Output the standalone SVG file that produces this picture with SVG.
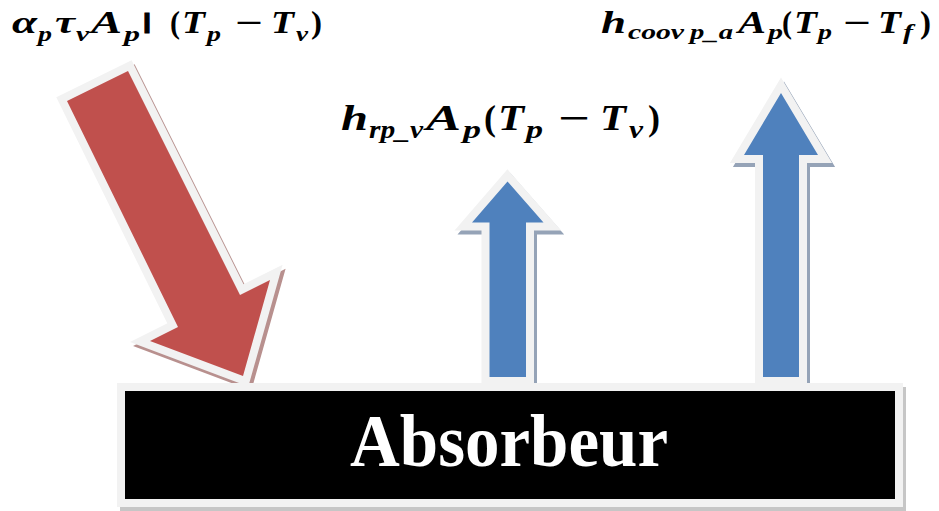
<svg xmlns="http://www.w3.org/2000/svg" width="939" height="511" viewBox="0 0 939 511">
<style>
.rim{fill:#f2f2f2;stroke:#f2f2f2;stroke-width:16;stroke-linejoin:miter;stroke-miterlimit:10}
.rsh{fill:#b8908e;stroke:#b8908e;stroke-width:16;stroke-linejoin:miter;stroke-miterlimit:10}
.bsh{fill:#95a3b7;stroke:#95a3b7;stroke-width:16;stroke-linejoin:miter;stroke-miterlimit:10}
.red{fill:#c0504d}
.blue{fill:#4f81bd}
.m{font-family:"Liberation Serif",serif;font-weight:bold;font-style:italic;font-size:31px;fill:#000}
.big{font-size:36px}
.s{font-size:22px}
.sb{font-size:25px}
.u{font-style:normal}
.sans{font-family:"Liberation Sans",sans-serif;font-style:normal;font-size:29px;stroke:#000;stroke-width:1}
.lbl{font-family:"Liberation Serif",serif;font-weight:bold;font-size:74px;fill:#fff}
</style>
<defs>
<polygon id="pRed" points="67,101 128,71 240,295 270,280 243,376 150,341 178,327"/>
<polygon id="pMid" points="507.5,181.5 543.5,222.5 526,222.5 526,377 489.5,377 489.5,222.5 472,222.5"/>
<polygon id="pRight" points="781,93 818,155 799,155 799,377 763,377 763,155 744,155"/>
</defs>
<g id="connectors">
<g id="arrow-in">
<use href="#pRed" class="rsh" transform="translate(3,4)"/>
<use href="#pRed" class="rim"/>
<use href="#pRed" class="red"/>
</g>
<g id="arrow-rad">
<use href="#pMid" class="bsh" transform="translate(3,4)"/>
<use href="#pMid" class="rim"/>
<use href="#pMid" class="blue"/>
</g>
<g id="arrow-conv">
<use href="#pRight" class="bsh" transform="translate(3,4)"/>
<use href="#pRight" class="rim"/>
<use href="#pRight" class="blue"/>
</g>
</g>
<g id="absorbeur">
<rect x="120" y="387" width="786" height="124" fill="#c6c6c6"/>
<rect x="121" y="387" width="778" height="116" fill="#000" stroke="#f2f2f2" stroke-width="8"/>
<text class="lbl" x="509" y="466" text-anchor="middle" textLength="318" lengthAdjust="spacingAndGlyphs">Absorbeur</text>
</g>
<g id="labels">
<text class="m"><tspan x="12" y="33" textLength="25" lengthAdjust="spacingAndGlyphs">α</tspan><tspan class="s" x="38" y="41" textLength="14" lengthAdjust="spacingAndGlyphs">p</tspan><tspan x="55" y="33" textLength="20" lengthAdjust="spacingAndGlyphs">τ</tspan><tspan class="s" x="76" y="41" textLength="13" lengthAdjust="spacingAndGlyphs">v</tspan><tspan x="91" y="33" textLength="31" lengthAdjust="spacingAndGlyphs">A</tspan><tspan class="s" x="124" y="41" textLength="16" lengthAdjust="spacingAndGlyphs">p</tspan><tspan class="sans" x="143" y="33" textLength="8" lengthAdjust="spacingAndGlyphs">I</tspan><tspan class="u" x="170" y="33" textLength="10" lengthAdjust="spacingAndGlyphs">(</tspan><tspan x="182" y="33" textLength="23" lengthAdjust="spacingAndGlyphs">T</tspan><tspan class="s" x="207" y="41" textLength="14" lengthAdjust="spacingAndGlyphs">p</tspan><tspan class="u" x="235" y="33" textLength="28" lengthAdjust="spacingAndGlyphs">−</tspan><tspan x="271" y="33" textLength="23" lengthAdjust="spacingAndGlyphs">T</tspan><tspan class="s" x="296" y="41" textLength="12" lengthAdjust="spacingAndGlyphs">v</tspan><tspan class="u" x="311" y="33" textLength="11" lengthAdjust="spacingAndGlyphs">)</tspan></text>
<text class="m big"><tspan x="341" y="130" textLength="27" lengthAdjust="spacingAndGlyphs">h</tspan><tspan class="sb" x="369" y="138" textLength="54" lengthAdjust="spacingAndGlyphs">rp_v</tspan><tspan x="426" y="130" textLength="35" lengthAdjust="spacingAndGlyphs">A</tspan><tspan class="sb" x="463" y="138" textLength="18" lengthAdjust="spacingAndGlyphs">p</tspan><tspan class="u" x="484" y="130" textLength="12" lengthAdjust="spacingAndGlyphs">(</tspan><tspan x="498" y="130" textLength="26" lengthAdjust="spacingAndGlyphs">T</tspan><tspan class="sb" x="526" y="138" textLength="17" lengthAdjust="spacingAndGlyphs">p</tspan><tspan class="u" x="558" y="130" textLength="32" lengthAdjust="spacingAndGlyphs">−</tspan><tspan x="600" y="130" textLength="26" lengthAdjust="spacingAndGlyphs">T</tspan><tspan class="sb" x="629" y="138" textLength="14" lengthAdjust="spacingAndGlyphs">v</tspan><tspan class="u" x="648" y="130" textLength="12" lengthAdjust="spacingAndGlyphs">)</tspan></text>
<text class="m"><tspan x="601" y="33" textLength="25" lengthAdjust="spacingAndGlyphs">h</tspan><tspan class="s" x="628" y="39" textLength="56" lengthAdjust="spacingAndGlyphs">coov</tspan><tspan class="s" x="690" y="39" textLength="43" lengthAdjust="spacingAndGlyphs">p_a</tspan><tspan x="738" y="33" textLength="28" lengthAdjust="spacingAndGlyphs">A</tspan><tspan class="s" x="768" y="39" textLength="15" lengthAdjust="spacingAndGlyphs">p</tspan><tspan class="u" x="782" y="33" textLength="10" lengthAdjust="spacingAndGlyphs">(</tspan><tspan x="794" y="33" textLength="23" lengthAdjust="spacingAndGlyphs">T</tspan><tspan class="s" x="818" y="39" textLength="14" lengthAdjust="spacingAndGlyphs">p</tspan><tspan class="u" x="843" y="33" textLength="28" lengthAdjust="spacingAndGlyphs">−</tspan><tspan x="878" y="33" textLength="23" lengthAdjust="spacingAndGlyphs">T</tspan><tspan class="s" x="903" y="39" textLength="10" lengthAdjust="spacingAndGlyphs">f</tspan><tspan class="u" x="920" y="33" textLength="11" lengthAdjust="spacingAndGlyphs">)</tspan></text>
</g>
</svg>
